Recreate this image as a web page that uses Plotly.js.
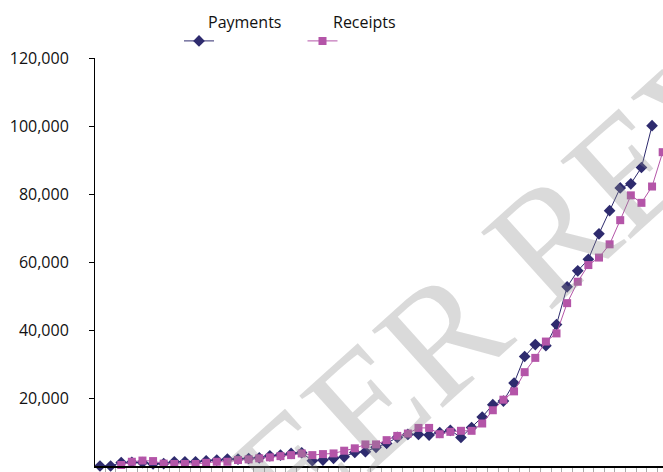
<!DOCTYPE html>
<html>
<head>
<meta charset="utf-8">
<script src="https://cdn.plot.ly/plotly-3.0.1.min.js"></script>
<style>html,body{margin:0;padding:0;background:#fff;}#chart{width:663px;height:472px;}</style>
</head>
<body>
<div id="chart"></div>
<script>
// Period index (x categories, unlabeled on the axis)
var periods = [];
for (var i = 0; i < 54; i++) periods.push(i);

var payments = [0, 0, 1000, 1100, 1000, 600, 700, 1250, 1250, 1250,
  1550, 1750, 2050, 2050, 2200, 2400, 3000, 3200, 3700, 3900,
  1550, 1750, 2250, 2700, 4000, 4200, 5500, 6650, 8400, 9300,
  9300, 9100, 9850, 10500, 8400, 11300, 14400, 18050, 19100, 24400,
  32200, 35700, 35400, 41600, 52700, 57400, 60800, 68300, 75100, 81800,
  83000, 87800, 100100, null];

var receipts = [null, null, 300, 1250, 1600, 1450, 700, 600, 600, 600,
  950, 1250, 1250, 1750, 1950, 2250, 2550, 2900, 3200, 3700,
  3200, 3500, 3700, 4500, 5200, 6350, 6350, 7600, 8850, 9550,
  11200, 11200, 9350, 10050, 10350, 10350, 12500, 16400, 19500, 21950,
  27600, 31800, 36600, 39000, 47900, 54200, 59100, 61300, 65200, 72300,
  79600, 77400, 82200, 92300];

var yTicks = [20000, 40000, 60000, 80000, 100000, 120000];
var yTickText = ['20,000', '40,000', '60,000', '80,000', '100,000', '120,000'];
var seriesNames = ['Payments', 'Receipts'];

var xTickVals = [];
for (var k = -1; k < periods.length; k++) xTickVals.push(k + 0.5);

var navy = '#2e2b6e';
var magenta = '#b455a8';
var FONT = '"Open Sans", "Noto Sans", sans-serif';

var traces = [
  {
    x: periods, y: payments, name: ' ', type: 'scatter', mode: 'lines+markers',
    line: {color: navy, width: 1},
    marker: {symbol: 'diamond', size: 9, color: navy},
    cliponaxis: false, legend: 'legend', connectgaps: false
  },
  {
    x: periods, y: receipts, name: ' ', type: 'scatter', mode: 'lines+markers',
    line: {color: magenta, width: 1},
    marker: {symbol: 'square', size: 8, color: magenta},
    cliponaxis: false, legend: 'legend2', connectgaps: false
  }
];

var layout = {
  width: 663, height: 472,
  margin: {l: 95, r: 0, t: 56, b: 6},
  paper_bgcolor: '#ffffff', plot_bgcolor: '#ffffff',
  font: {family: FONT, size: 16, color: '#111111'},
  showlegend: true,
  legend: {
    xref: 'container', yref: 'container', x: 179 / 663, y: 1 - 24 / 472,
    xanchor: 'left', yanchor: 'top', orientation: 'h',
    bgcolor: 'rgba(0,0,0,0)', borderwidth: 0, font: {family: FONT, size: 16}
  },
  legend2: {
    xref: 'container', yref: 'container', x: 302.5 / 663, y: 1 - 24 / 472,
    xanchor: 'left', yanchor: 'top', orientation: 'h',
    bgcolor: 'rgba(0,0,0,0)', borderwidth: 0, font: {family: FONT, size: 16}
  },
  xaxis: {
    range: [-0.47, 53.03], showgrid: false, zeroline: false,
    showline: true, linecolor: '#000000', linewidth: 1.5,
    tickmode: 'array', tickvals: xTickVals, showticklabels: false,
    ticks: 'outside', ticklen: 4, tickwidth: 1, tickcolor: '#aaaaaa'
  },
  yaxis: {
    range: [0, 120000], showgrid: false, zeroline: false,
    showline: true, linecolor: '#000000', linewidth: 1,
    tickmode: 'array', tickvals: yTicks, ticktext: yTickText,
    ticks: 'outside', ticklen: 5, tickwidth: 1, tickcolor: '#000000',
    ticklabelstandoff: 17,
    tickfont: {family: FONT, size: 16, color: '#111111'}
  },
  annotations: [
    {
      text: 'PEER REVIEW', xref: 'paper', yref: 'paper', x: 0.859, y: 0.629,
      xanchor: 'center', yanchor: 'middle', showarrow: false, textangle: -42,
      font: {family: '"Liberation Serif", "DejaVu Serif", serif', size: 160, color: 'rgba(140,140,140,0.32)'}
    },
    {
      text: seriesNames[0], xref: 'paper', yref: 'paper', x: (244.5 - 95) / 568, y: (466 - 20) / 410,
      xanchor: 'center', yanchor: 'middle', showarrow: false,
      font: {family: FONT, size: 16, color: '#111111'}
    },
    {
      text: seriesNames[1], xref: 'paper', yref: 'paper', x: (364 - 95) / 568, y: (466 - 20) / 410,
      xanchor: 'center', yanchor: 'middle', showarrow: false,
      font: {family: FONT, size: 16, color: '#111111'}
    }
  ]
};

Plotly.newPlot('chart', traces, layout, {displayModeBar: false, staticPlot: true});
</script>
</body>
</html>
